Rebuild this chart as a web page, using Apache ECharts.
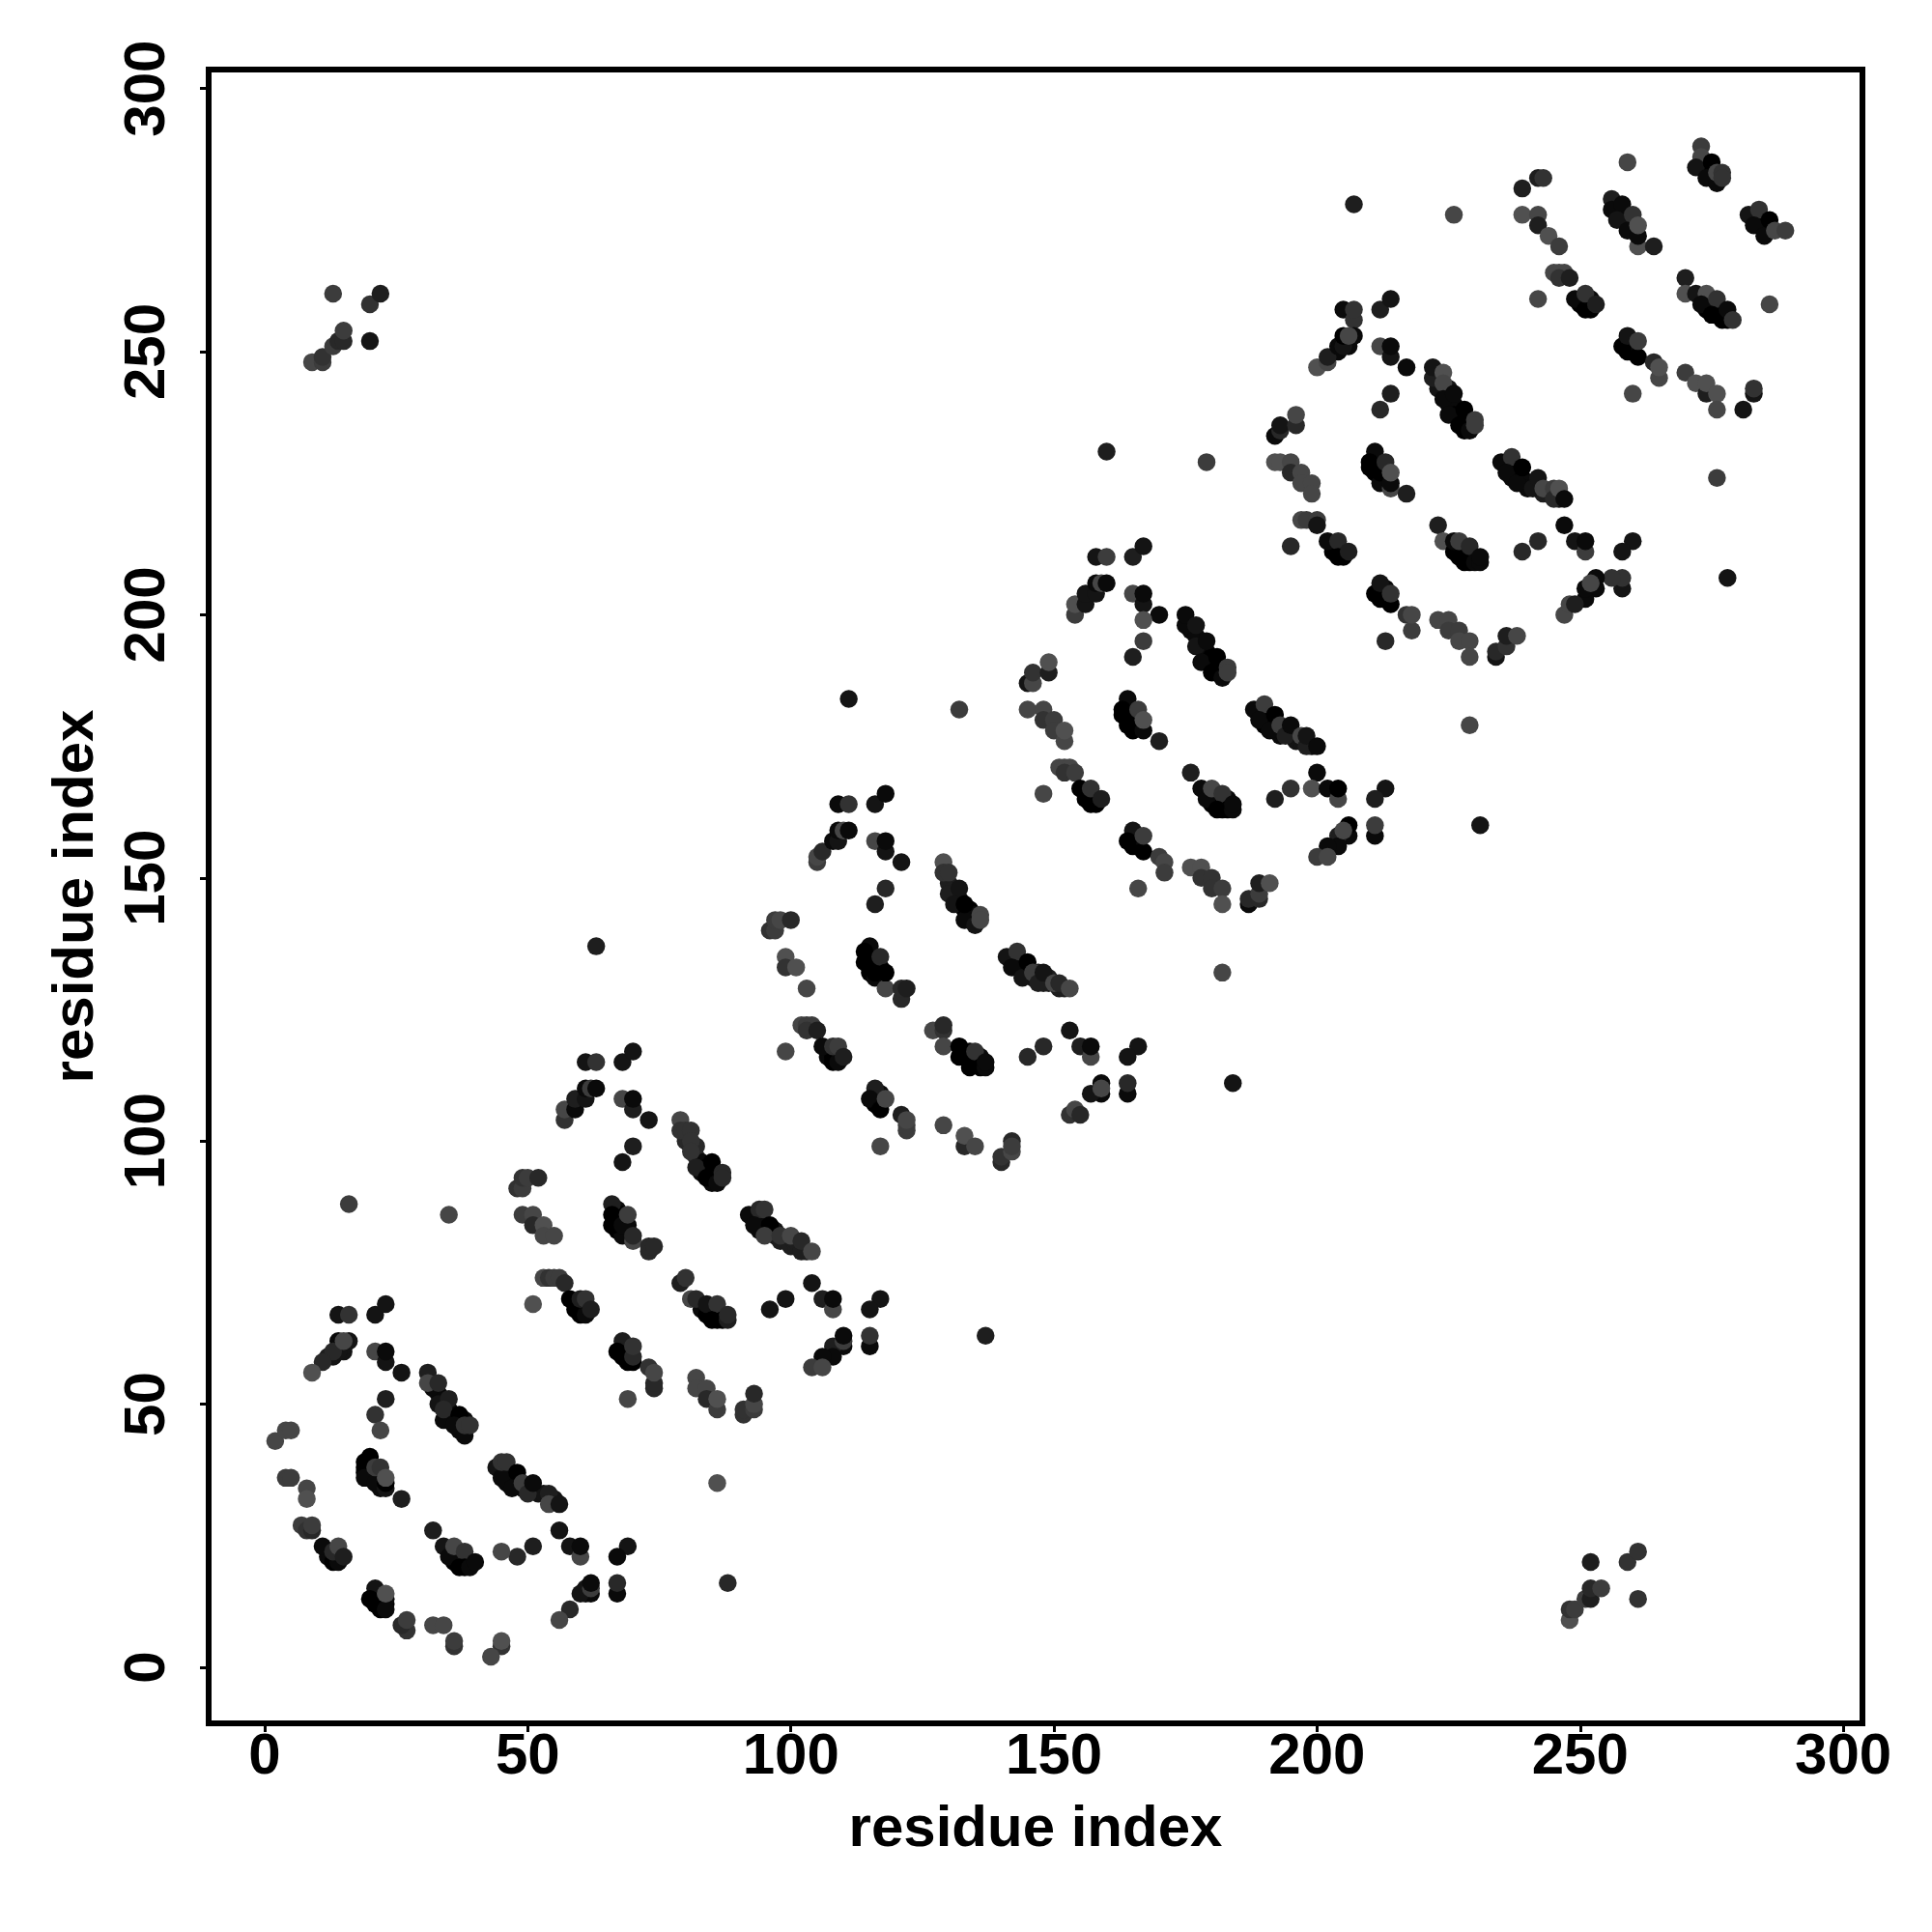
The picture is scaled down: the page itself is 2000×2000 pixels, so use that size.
<!DOCTYPE html>
<html><head><meta charset="utf-8">
<script src="https://cdn.jsdelivr.net/npm/echarts@6/dist/echarts.min.js"></script>
<style>html,body{margin:0;padding:0;background:#fff}#c{width:2000px;height:2000px}</style>
</head><body><div id="c"></div>
<script>
const tickLabels = [0, 50, 100, 150, 200, 250, 300];
// each entry: [residue i, residue j, contact score 1-9]
const outliers = [[16,88,3],[35,86,2],[63,137,6],[111,184,7],[132,182,3],[137,63,6],[88,16,5],[86,35,1],[184,111,7],[182,132,2],[231,160,7],[229,179,2],[160,231,6],[179,229,3],[207,278,6],[226,276,2],[278,207,7],[276,226,3]];
const cornerTL = [[9,248,2],[11,248,3],[11,249,4],[13,251,3],[14,252,5],[15,252,5],[15,254,3],[13,261,3],[20,259,4],[22,261,6],[20,252,7]];
const cornerBR = [[248,9,1],[248,11,4],[249,11,3],[251,13,3],[252,13,6],[252,15,5],[254,15,3],[252,20,6],[259,20,4],[261,22,4],[261,13,4]];
const core1 = [[32,53,8],[33,52,8],[34,51,8],[35,49,8],[36,48,8],[36,47,8],[37,46,8],[38,47,8],[37,45,8],[20,38,9],[20,36,9],[21,37,9],[21,36,9],[22,36,8],[22,35,8],[22,34,8],[46,37,8],[46,35,8],[47,36,8],[48,35,8],[49,34,8],[50,34,7],[52,33,7],[53,33,7],[55,32,7],[35,22,8],[36,21,8],[36,20,9],[37,21,9],[38,20,9],[39,20,8],[37,22,7],[12,22,8],[12,21,8],[13,21,8],[14,21,8],[21,13,8],[21,12,9],[22,13,8],[22,14,8],[22,12,9],[23,12,9],[23,13,8],[15,60,7],[15,61,7],[12,59,6],[13,59,7],[61,14,7],[61,15,7]];
const core2 = [[80,100,5],[81,99,5],[82,97,5],[83,96,8],[83,94,8],[84,95,9],[85,94,9],[86,93,8],[85,92,8],[86,94,8],[67,87,8],[67,85,9],[68,86,9],[68,85,9],[67,83,9],[69,84,8],[69,83,8],[68,82,8],[93,85,8],[94,85,8],[94,83,8],[96,83,8],[97,83,7],[97,82,7],[98,81,6],[99,81,6],[100,80,6],[101,80,6],[101,81,6],[103,79,6],[83,68,8],[84,67,9],[85,68,8],[86,67,9],[86,66,9],[87,67,9],[85,67,9],[59,69,8],[59,68,9],[60,68,9],[61,68,9],[68,60,9],[68,59,9],[69,60,9],[69,61,8]];
const core3 = [[130,149,6],[131,148,6],[132,146,7],[133,144,9],[134,144,9],[134,143,9],[135,143,8],[135,142,8],[115,135,9],[115,133,9],[116,135,9],[116,134,9],[115,132,9],[117,133,9],[117,132,9],[116,131,8],[143,134,8],[144,133,8],[144,132,8],[146,131,7],[147,131,6],[147,132,6],[148,130,6],[149,130,6],[149,131,6],[151,129,6],[152,129,6],[133,117,9],[134,116,9],[134,117,8],[135,115,9],[136,115,9],[136,116,8],[135,116,9],[107,117,8],[107,116,8],[108,116,9],[109,116,8],[116,108,9],[116,107,9],[117,108,9],[117,109,8]];
const core4 = [[176,197,8],[177,196,8],[178,194,8],[179,193,8],[179,191,9],[180,192,9],[181,190,9],[182,190,9],[181,189,9],[164,182,9],[164,180,9],[165,182,9],[165,181,9],[164,179,9],[166,180,9],[166,179,9],[165,178,9],[190,181,8],[190,179,9],[191,180,9],[192,179,9],[193,178,8],[193,177,8],[195,177,8],[196,176,7],[197,176,7],[199,175,8],[179,166,9],[180,165,9],[180,164,9],[181,165,9],[182,164,9],[183,165,8],[182,163,9],[156,166,9],[156,165,9],[157,165,9],[158,165,9],[165,157,9],[165,156,9],[166,157,9],[166,158,8]];
const core5 = [[223,243,7],[225,243,7],[225,240,8],[226,240,8],[226,238,9],[227,238,9],[228,237,9],[229,237,9],[228,235,9],[211,229,9],[211,227,9],[212,229,9],[212,228,9],[213,227,9],[213,226,9],[212,225,8],[237,228,8],[237,226,8],[238,227,9],[239,226,9],[240,225,8],[240,224,8],[242,224,7],[243,223,6],[244,223,6],[246,222,7],[227,212,9],[228,212,9],[228,213,8],[229,211,9],[230,211,9],[229,210,9],[227,211,9],[203,213,8],[203,212,9],[204,212,9],[205,212,9],[212,204,9],[212,203,9],[213,204,9],[213,205,8],[206,251,8],[204,250,8]];
const core6 = [[273,285,8],[274,285,9],[274,284,9],[275,283,9],[275,284,9],[276,283,8],[257,277,8],[258,276,8],[258,275,9],[259,275,8],[259,274,8],[260,273,8],[260,274,7],[257,276,8],[284,275,8],[284,274,9],[285,274,9],[285,273,9],[286,273,8],[274,258,9],[275,259,8],[276,258,9],[276,257,9],[277,257,9],[277,256,9],[274,259,8],[250,260,8],[250,259,9],[251,259,9],[252,259,9],[252,260,8],[259,251,9],[259,250,9],[260,251,9],[260,252,8]];
const unit1 = [
[14,67,7],[16,67,4],[21,67,7],[23,69,7],[14,60,7],[14,62,8],[16,62,7],[13,60,5],[15,62,2],[11,58,5],[9,56,1],
[21,60,2],[23,58,7],[23,60,8],[26,56,7],[23,51,6],[21,48,4],[22,45,2],[2,43,2],[4,45,2],[5,45,2],
[4,36,3],[5,36,3],[8,34,2],[8,32,1],[7,27,3],[8,26,4],[9,26,5],[9,27,3],
[11,23,8],[13,20,9],[14,20,8],[13,22,5],[14,23,2],[15,21,6],
[20,40,9],[19,39,9],[19,38,9],[19,37,9],[19,36,8],[21,35,8],[23,34,7],[23,35,9],[21,38,3],[22,38,4],[23,36,1],[26,32,6],
[31,56,6],[31,54,2],[33,54,5],[33,50,7],[35,51,6],[34,47,8],[34,49,5],[37,48,9],[36,46,8],[38,44,8],[38,46,4],[39,46,4],
[44,38,7],[45,36,8],[45,39,4],[46,39,4],[48,37,9],[47,34,8],[49,35,3],[50,33,5],[51,35,8],[54,33,6],[54,31,2],[56,31,7],
[56,26,7],[58,23,7],[60,21,2],[60,23,8],[69,23,7],[67,21,8],[67,14,8],[67,16,5],
[62,14,8],[60,14,7],[62,15,3],[62,16,8],[58,11,5],[56,9,2],[51,23,6],[48,21,5],[45,22,2],
[32,26,6],[34,23,7],[35,21,8],[36,23,2],[38,22,4],[37,19,9],[38,19,9],[39,19,8],[40,20,8],
[21,15,7],[20,13,9],[22,11,9],[23,11,8],[23,14,1],[27,7,4],[26,8,5],[27,9,3],[32,8,2],[34,8,2],[36,4,4],[36,5,3],[45,4,4],[45,5,1],[43,2,2]];
const unit2 = [
[61,115,7],[63,115,4],[68,115,7],[70,117,7],[57,104,4],[57,106,2],[59,106,8],[59,108,6],[61,108,7],[61,110,8],[62,110,3],[63,110,8],
[68,108,2],[70,106,6],[70,108,8],[73,104,7],[70,99,6],[68,96,7],
[79,104,2],[79,102,4],[80,102,4],[81,102,4],[82,99,5],[81,100,4],[81,98,4],[82,95,6],[85,96,9],[84,93,9],[86,92,8],[87,94,5],[87,93,5],
[48,91,4],[49,91,3],[49,93,4],[50,93,3],[52,93,5],[49,86,3],[51,86,2],[51,84,5],[53,84,1],[53,82,2],[55,82,2],
[53,74,2],[54,74,4],[55,74,3],[56,74,3],[57,73,5],[58,70,9],[60,67,9],[61,67,8],[60,70,6],[61,70,4],[62,68,6],[51,69,1],
[66,88,6],[66,86,9],[66,84,9],[68,84,8],[69,86,3],[70,81,2],[70,82,5],[73,79,5],[73,80,5],[74,80,5],
[92,86,8],[94,87,5],[95,87,4],[93,84,8],[96,84,9],[95,82,3],[98,82,4],[100,82,2],[102,79,6],[102,81,5],[104,79,2],
[104,73,7],[106,70,6],[108,68,2],[108,70,8],[117,70,7],[115,68,7],[115,61,8],[115,63,4],
[110,61,8],[108,61,6],[108,59,8],[106,59,8],[110,62,3],[110,63,8],[104,57,3],[106,57,2],[99,70,7],[96,68,7],
[79,73,6],[80,74,4],[81,70,2],[82,70,5],[84,69,7],[86,69,4],[85,66,9],[87,66,9],[88,66,6],[88,67,5],
[68,62,6],[67,60,9],[69,58,9],[70,58,9],[70,59,5],[70,61,4],[73,57,4],[74,53,5],[74,54,5],[74,56,2],[69,51,2],
[82,55,2],[82,53,2],[84,53,2],[84,51,5],[86,49,3],[86,51,1],[91,48,4],[91,49,4],[93,49,3],[93,50,2],[93,52,5]];
const unit3 = [
[109,164,8],[111,164,4],[116,164,7],[118,166,8],[105,153,3],[105,154,2],[106,155,5],[108,157,8],[109,157,7],[109,159,8],[110,159,2],[111,159,8],
[116,157,2],[118,155,7],[118,157,8],[121,153,7],[118,148,5],[116,145,6],
[129,153,1],[129,151,4],[130,151,4],[130,147,6],[132,148,7],[131,145,7],[133,142,8],[133,145,9],[135,141,7],[136,143,2],[136,142,2],
[96,140,4],[97,140,3],[97,142,3],[98,142,2],[100,142,5],[99,135,1],[99,133,4],[101,133,1],[103,129,2],
[102,122,2],[103,122,3],[104,122,3],[103,121,4],[105,121,6],[106,118,8],[108,115,9],[109,115,8],[108,118,4],[109,118,3],[110,116,6],[99,117,2],
[115,137,8],[114,136,9],[114,134,9],[116,132,9],[117,135,5],[118,129,2],[118,132,9],[121,127,5],[121,129,5],[122,129,6],
[141,135,7],[143,136,4],[142,133,8],[144,131,7],[145,134,9],[146,132,3],[147,130,6],[148,132,7],[150,130,2],[151,130,5],[153,129,2],
[153,121,7],[155,118,6],[157,116,2],[157,118,8],[166,118,7],[164,116,7],[164,109,8],[164,111,5],
[159,109,8],[157,109,7],[159,111,8],[159,110,2],[153,105,4],[154,106,2],[155,105,5],[148,118,5],[145,116,5],
[127,121,2],[129,121,4],[129,122,5],[129,118,2],[132,116,9],[132,118,9],[134,114,9],[135,117,4],[136,114,9],[137,114,8],[137,115,8],
[116,110,6],[115,108,8],[117,106,9],[118,108,2],[121,105,6],[122,102,3],[122,103,3],[122,104,2],[117,99,2],
[129,103,2],[133,99,5],[133,101,1],[135,99,2],[140,96,5],[140,97,4],[142,98,2],[142,100,5],[142,99,3]];
const unit4 = [
[158,211,7],[160,211,3],[165,211,6],[167,213,7],[154,200,3],[154,202,1],[156,202,7],[156,204,7],[158,204,7],[158,206,8],[159,206,2],[160,206,8],
[165,204,2],[167,202,7],[167,204,8],[170,200,8],[167,199,1],[167,195,3],[165,192,6],
[175,198,8],[175,200,8],[177,198,7],[177,194,7],[179,195,8],[178,191,8],[180,189,9],[181,192,9],[182,188,8],[183,190,3],[183,189,3],
[145,187,7],[146,187,2],[146,189,4],[149,189,6],[149,191,1],[145,182,2],[148,182,2],[148,180,4],[150,180,3],[150,178,3],[152,176,2],[152,178,1],
[151,171,2],[152,171,2],[153,171,2],[152,170,4],[154,170,3],[155,167,9],[157,164,9],[158,164,9],[157,167,4],[159,165,6],[148,166,2],
[164,184,8],[163,182,9],[163,181,9],[165,179,9],[166,182,3],[167,178,8],[167,180,1],[170,176,6],
[188,182,8],[190,183,3],[189,180,8],[191,178,8],[192,181,9],[193,179,3],[194,177,6],[195,179,8],[197,177,2],[198,175,6],[198,177,7],[200,175,8],
[200,170,8],[199,167,1],[202,167,8],[204,165,2],[204,167,9],[213,167,7],[211,165,6],[211,158,8],[211,160,3],
[206,158,8],[204,158,6],[204,156,8],[202,156,8],[206,160,9],[205,159,2],[200,154,3],[202,154,2],[195,167,4],[192,165,6],
[176,170,6],[178,167,8],[179,165,8],[180,167,2],[182,166,4],[181,163,9],[183,163,9],[184,163,8],[184,164,8],
[165,159,7],[164,157,9],[167,155,9],[167,158,3],[170,154,3],[171,153,2],[171,151,3],[166,148,2],
[176,152,1],[178,152,1],[178,150,4],[180,150,4],[180,148,4],[182,148,3],[182,145,1],
[187,145,8],[187,146,5],[189,146,5],[189,147,3],[189,149,6],[191,149,1]];
const unit5 = [
[205,258,8],[207,256,4],[207,258,4],[212,258,6],[214,260,7],[200,247,1],[202,248,2],[202,249,6],[204,251,8],[205,251,7],[205,253,9],[207,253,8],[206,253,2],
[212,251,2],[214,249,7],[214,251,8],[217,247,8],[214,242,6],[212,239,5],
[222,245,6],[222,247,7],[224,246,1],[224,244,2],[224,241,8],[226,242,8],[225,238,8],[227,236,9],[228,239,9],[229,235,8],[230,237,3],[230,236,3],
[192,234,8],[193,235,5],[193,236,7],[196,236,5],[196,238,2],
[192,229,1],[193,229,1],[195,229,2],[195,227,5],[197,227,2],[197,225,2],[199,225,2],[199,223,2],
[197,218,2],[198,218,3],[200,218,3],[200,217,7],[202,214,8],[204,214,5],[204,211,9],[205,211,9],[206,212,6],[195,213,5],
[211,231,8],[210,229,9],[210,228,9],[212,227,9],[213,229,5],[214,224,2],[214,225,8],[214,227,1],[217,223,6],
[235,229,8],[237,230,4],[236,227,8],[238,225,8],[239,228,9],[241,224,7],[242,226,7],[243,224,2],[245,224,3],[245,222,5],[246,224,1],[247,222,8],
[247,217,8],[249,214,7],[251,212,3],[251,214,8],[260,214,7],[258,212,7],[258,205,7],[258,207,4],[256,207,4],
[253,205,8],[251,203,8],[251,205,8],[253,207,8],[252,206,2],[247,200,2],[248,202,2],[249,202,6],[242,214,5],[239,212,5],
[223,217,6],[224,214,1],[226,212,9],[226,214,8],[227,214,3],[228,210,9],[229,213,5],[230,210,8],[231,210,8],[231,211,8],
[211,204,9],[212,206,7],[214,202,9],[214,204,4],[217,200,4],[218,197,3],[218,200,2],[213,195,5],
[223,199,2],[225,199,2],[225,197,3],[227,197,3],[227,195,2],[229,195,2],[229,192,2],
[234,192,7],[234,193,5],[236,194,4],[236,196,6],[238,196,2]];
const unit6 = [
[239,281,6],[242,283,6],[243,283,4],[239,276,1],[242,276,2],[242,274,6],[244,272,1],[246,270,3],
[245,265,2],[246,265,2],[247,265,2],[246,264,4],[248,264,6],[249,260,8],[251,258,9],[252,258,9],[251,261,4],[253,259,6],[242,260,2],
[256,279,6],[256,277,8],[258,278,8],[257,275,7],[260,276,4],[259,273,8],[261,270,1],[261,272,8],[261,274,1],[264,270,6],[259,286,2],
[273,289,3],[273,287,2],[272,285,7],[275,286,9],[274,283,8],[276,282,8],[276,284,2],[277,284,4],[277,283,4],
[282,276,7],[284,277,4],[283,274,8],[285,272,8],[286,275,9],[287,273,2],[289,273,3],
[270,264,6],[270,261,1],[272,261,7],[274,261,1],[273,259,8],[276,260,4],[275,257,9],[278,256,9],[278,258,8],[279,256,4],[286,259,2],
[258,251,9],[259,253,7],[261,249,9],[261,252,3],[264,248,5],[265,245,2],[265,247,1],[260,242,2],
[270,246,3],[272,244,1],[274,242,6],[274,244,1],[276,242,1],[276,239,2],[281,239,7],[283,242,7],[283,243,4]];

const contacts = [].concat(core1, core2, core3, core4, core5, core6, outliers, cornerTL, cornerBR, unit1, unit2, unit3, unit4, unit5, unit6);
const axisCommon = {
  type: 'value', min: -10.65, splitLine: {show: false}, axisLine: {show: false, onZero: false},
  axisTick: {show: true, length: 9, lineStyle: {color: '#000', width: 3}, customValues: tickLabels},
  axisLabel: {show: true, customValues: tickLabels, color: '#000', fontFamily: 'Liberation Sans', fontWeight: 'bold', fontSize: 60, showMinLabel: true, showMaxLabel: true},
  name: 'residue index', nameLocation: 'middle', nameMoveOverlap: false,
  nameTextStyle: {color: '#000', fontFamily: 'Liberation Sans', fontWeight: 'bold', fontSize: 60}
};
const chart = echarts.init(document.getElementById('c'), null, {renderer: 'canvas'});
chart.setOption({
  animation: false, backgroundColor: '#fff',
  grid: {left: 216, top: 72, width: 1712, height: 1712, show: true, borderColor: '#000', borderWidth: 6, backgroundColor: '#fff'},
  xAxis: Object.assign({}, axisCommon, {max: 303.65, nameGap: 80,
    axisLabel: Object.assign({}, axisCommon.axisLabel, {margin: 5})}),
  yAxis: Object.assign({}, axisCommon, {max: 303.6, nameGap: 107,
    axisLabel: Object.assign({}, axisCommon.axisLabel, {rotate: 90, margin: 63, align: 'center', verticalAlign: 'middle'})}),
  series: [{
    type: 'scatter', data: contacts, symbol: 'circle', symbolSize: 18.5, clip: false, z: 5,
    itemStyle: {opacity: 1, color: p => { const g = (9 - p.data[2]) * 10; return `rgb(${g},${g},${g})`; }}
  }]
});
</script></body></html>
